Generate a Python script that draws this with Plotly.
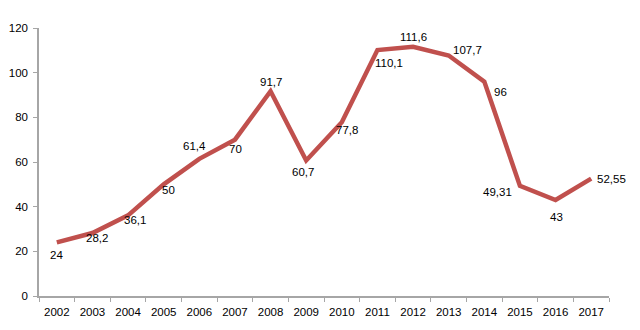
import plotly.graph_objects as go

years = ["2002", "2003", "2004", "2005", "2006", "2007", "2008", "2009",
         "2010", "2011", "2012", "2013", "2014", "2015", "2016", "2017"]
values = [24, 28.2, 36.1, 50, 61.4, 70, 91.7, 60.7, 77.8, 110.1, 111.6, 107.7, 96, 49.31, 43, 52.55]
labels = ["24", "28,2", "36,1", "50", "61,4", "70", "91,7", "60,7",
          "77,8", "110,1", "111,6", "107,7", "96", "49,31", "43", "52,55"]
y_ticks = [0, 20, 40, 60, 80, 100, 120]

# label offsets in pixels (dx, dy with dy positive = down)
offsets = [(0, 13), (5, 5), (7, 5), (5, 6), (-5, -13), (1, 9), (0, -9), (-3, 12),
           (5, 8), (12, 13), (0, -10), (19, -5), (16, 10), (-22, 6), (1, 17), (20, 0)]

FONT = "Liberation Sans"
LINE = "#c0504d"
AXIS = "#a6a6a6"

fig = go.Figure()
fig.add_trace(go.Scatter(x=years, y=values, mode="lines",
                         line=dict(color=LINE, width=4.5), hoverinfo="skip"))

for i, (v, t, (dx, dy)) in enumerate(zip(values, labels, offsets)):
    fig.add_annotation(x=i, y=v, xref="x", yref="y", text=t, showarrow=False,
                       xshift=dx, yshift=-dy,
                       font=dict(family=FONT, size=11.5, color="#000000"))

fig.update_layout(
    width=640, height=330,
    margin=dict(l=39, r=31, t=28, b=34),
    paper_bgcolor="white", plot_bgcolor="white",
    showlegend=False,
    font=dict(family=FONT, size=11.5, color="#000000"),
    xaxis=dict(type="category", tickson="boundaries", ticks="outside", ticklen=4,
               tickcolor=AXIS, showline=True, linecolor=AXIS, linewidth=1.5,
               showgrid=False, zeroline=False, range=[-0.5, 15.5],
               ticklabelstandoff=4, automargin=False,
               tickfont=dict(family=FONT, size=11.5, color="#000000")),
    yaxis=dict(range=[0, 120], tickvals=y_ticks, ticks="outside", ticklen=4,
               tickcolor=AXIS, showline=True, linecolor=AXIS, linewidth=1.5,
               showgrid=False, zeroline=False, ticklabelstandoff=3, automargin=False,
               tickfont=dict(family=FONT, size=11.5, color="#000000")),
)

fig.write_html("out.html")
